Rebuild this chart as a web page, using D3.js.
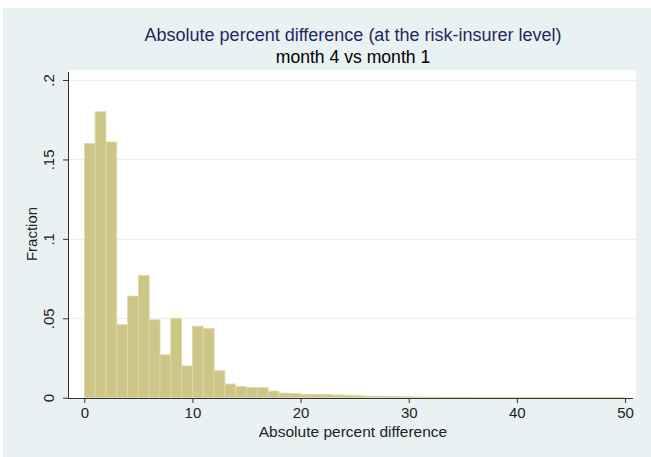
<!DOCTYPE html>
<html><head><meta charset="utf-8">
<script src="https://cdn.jsdelivr.net/npm/d3@7"></script>
<style>body{margin:0;background:#fff}svg{display:block;font-family:"Liberation Sans",Arial,sans-serif}</style>
</head><body>
<svg id="c" width="651" height="457"></svg>
<script>
const title = "Absolute percent difference (at the risk-insurer level)";
const subtitle = "month 4 vs month 1";
const xLabel = "Absolute percent difference";
const yLabel = "Fraction";
const binStarts = d3.range(0, 50, 1);
const fractions = [0.160,0.180,0.161,0.046,0.064,0.077,0.049,0.027,0.050,0.020,
  0.045,0.0435,0.017,0.0086,0.0070,0.0064,0.0063,0.0042,0.0029,0.0027,
  0.0021,0.0021,0.0020,0.0017,0.0015,0.0012,0.0010,0.0010,0.0009,0.0006,
  0.0005,0.0004,0.0004,0.0003,0.0003,0.0003,0.0002,0.0002,0.0002,0.0002,
  0.0002,0.0002,0.0001,0.0001,0.0001,0.0001,0.0001,0.0001,0.0001,0.0001];
const binWidth = 1;
const xTicks = [0,10,20,30,40,50];
const yTicks = [0,0.05,0.1,0.15,0.2];
const yTickLabels = ["0",".05",".1",".15",".2"];

const svg = d3.select("#c");
svg.append("rect").attr("x",3).attr("y",8).attr("width",648).attr("height",449).attr("fill","#e9f1f3");
const plot = {x0:68, y0:70, x1:636, y1:398};
svg.append("rect").attr("x",plot.x0).attr("y",plot.y0).attr("width",plot.x1-plot.x0).attr("height",plot.y1-plot.y0).attr("fill","#fff");

const x = d3.scaleLinear().domain([0,50]).range([84.3,625]);
const y = d3.scaleLinear().domain([0,0.2]).range([397.7,80]);

// gridlines
svg.append("g").selectAll("line").data(yTicks.slice(1)).join("line")
  .attr("x1",plot.x0+1).attr("x2",plot.x1).attr("y1",d=>Math.round(y(d))+0.5).attr("y2",d=>Math.round(y(d))+0.5)
  .attr("stroke","#ececec").attr("stroke-width",1);

// bars
svg.append("g").selectAll("rect").data(binStarts).join("rect")
  .attr("x",(d)=>x(d)).attr("width",(d)=>x(d+binWidth)-x(d))
  .attr("y",(d,i)=>y(fractions[i])).attr("height",(d,i)=>y(0)-y(fractions[i]))
  .attr("fill","#cdc687").attr("stroke","#ddd9a8").attr("stroke-width",0.8);

const font = "Liberation Sans, Arial, sans-serif";
// axes
const xAxis = d3.axisBottom(x).tickValues(xTicks).tickSize(5).tickPadding(4).tickFormat(d3.format("d"));
const gx = svg.append("g").attr("transform",`translate(0,${plot.y1})`).call(xAxis);
gx.select(".domain").remove();
gx.append("line").attr("x1",plot.x0).attr("x2",plot.x1-3).attr("y1",0.5).attr("y2",0.5).attr("stroke","#333");
gx.selectAll(".tick line").attr("stroke","#333");
gx.selectAll(".tick text").attr("font-size",15).attr("fill","#222").attr("font-family",font);

const yAxis = d3.axisLeft(y).tickValues(yTicks).tickSize(5).tickFormat((d,i)=>yTickLabels[i]);
const gy = svg.append("g").attr("transform",`translate(${plot.x0},0)`).call(yAxis);
gy.select(".domain").remove();
gy.append("line").attr("x1",0.5).attr("x2",0.5).attr("y1",plot.y0+2).attr("y2",plot.y1+1).attr("stroke","#333");
gy.selectAll(".tick line").attr("stroke","#333");
gy.selectAll(".tick text").attr("font-size",15).attr("fill","#222").attr("font-family",font)
  .attr("x",0).attr("dy",0).attr("text-anchor","middle")
  .attr("transform","translate(-14,0) rotate(-90)");

svg.append("text").attr("x",353).attr("y",41).attr("text-anchor","middle").attr("font-size",18).attr("fill","#1d2a5e").text(title);
svg.append("text").attr("x",353).attr("y",63).attr("text-anchor","middle").attr("font-size",17.6).attr("fill","#000").text(subtitle);
svg.append("text").attr("x",353).attr("y",437).attr("text-anchor","middle").attr("font-size",15.5).attr("fill","#222").text(xLabel);
svg.append("text").attr("transform","translate(37,234) rotate(-90)").attr("text-anchor","middle").attr("font-size",15).attr("fill","#222").text(yLabel);
</script>
</body></html>
